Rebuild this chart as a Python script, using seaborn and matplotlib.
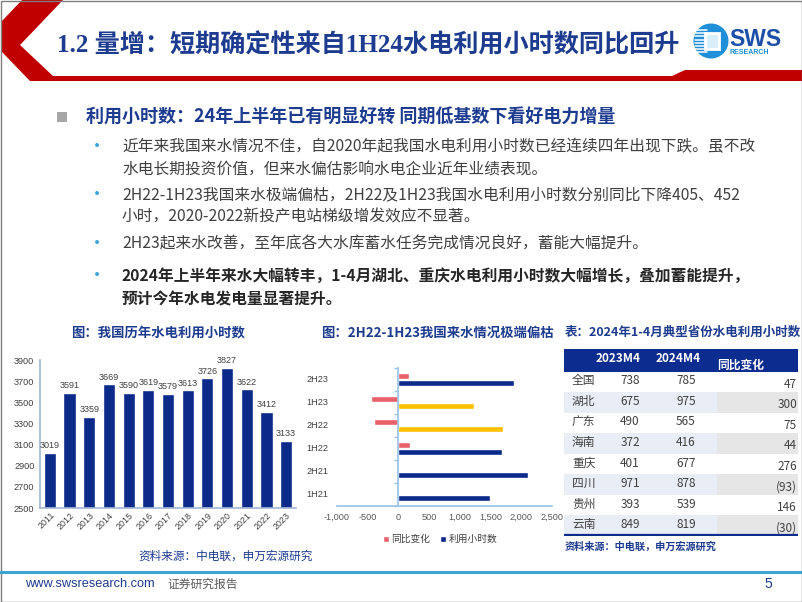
import numpy as np
import pandas as pd
import seaborn as sns
import matplotlib.pyplot as plt
from matplotlib.patches import Polygon, Rectangle, Circle
from matplotlib.ticker import FuncFormatter

# data
years = [str(y) for y in range(2011, 2024)]
hours = [3019, 3591, 3359, 3669, 3590, 3619, 3579, 3613, 3726, 3827, 3622, 3412, 3133]

halves = ['2H23', '1H23', '2H22', '1H22', '2H21', '1H21']
yoy_change = [165, -452, -405, 190, np.nan, np.nan]
half_hours = [1880, 1235, 1710, 1685, 2110, 1490]
dry_halves = ['1H23', '2H22']

provinces = ['全国', '湖北', '广东', '海南', '重庆', '四川', '贵州', '云南']
m4_2023 = [738, 675, 490, 372, 401, 971, 393, 849]
m4_2024 = [785, 975, 565, 416, 677, 878, 539, 819]
m4_change = [47, 300, 75, 44, 276, -93, 146, -30]
table_cols = ['2023M4', '2024M4', '同比变化']

bullets = [
    ['近年来我国来水情况不佳，自2020年起我国水电利用小时数已经连续四年出现下跌。虽不改',
     '水电长期投资价值，但来水偏估影响水电企业近年业绩表现。'],
    ['2H22-1H23我国来水极端偏枯，2H22及1H23我国水电利用小时数分别同比下降405、452',
     '小时，2020-2022新投产电站梯级增发效应不显著。'],
    ['2H23起来水改善，至年底各大水库蓄水任务完成情况良好，蓄能大幅提升。'],
    ['2024年上半年来水大幅转丰，1-4月湖北、重庆水电利用小时数大幅增长，叠加蓄能提升，',
     '预计今年水电发电量显著提升。'],
]
bullet_y = [[147, 170], [195, 217], [244], [276, 299]]

navy = '#0B2A8A'
title_blue = '#1D3B8F'
red = '#C00000'
salmon = '#E8606A'
gold = '#FFC000'
gray_txt = '#404040'

sns.set_theme(style='white')
plt.rcParams['font.family'] = ['Noto Sans CJK SC', 'DejaVu Sans']
plt.rcParams['axes.unicode_minus'] = False
num_font = ['Liberation Sans', 'Noto Sans CJK SC']

W, H = 802, 602
fig = plt.figure(figsize=(W / 100, H / 100), dpi=100)


def box(x0, y0, x1, y1):
    return [x0 / W, 1 - y1 / H, (x1 - x0) / W, (y1 - y0) / H]


bg = fig.add_axes([0, 0, 1, 1])
bg.set_xlim(0, W)
bg.set_ylim(H, 0)
bg.axis('off')

# header chevron + band
bg.add_patch(Polygon([(22, 0), (63, 0), (20, 45), (53, 76), (672, 76), (685, 70),
                      (802, 70), (802, 81), (30, 81), (2, 52), (2, 21)],
                     closed=True, color=red, lw=0))
bg.text(57, 45, '1.2 量增：短期确定性来自1H24水电利用小时数同比回升', fontsize=18.1,
        fontweight='bold', color=title_blue, va='center',
        family=['Liberation Serif', 'Noto Sans CJK SC'])

# logo
bg.add_patch(Circle((711, 41), 17.5, color='#1E8FD8', lw=0))
for yy in np.arange(30, 55, 3.2):
    bg.plot([695, 707], [yy, yy], color='white', lw=1.1)
bg.add_patch(Rectangle((705, 33), 14, 16, fc='#D8EEFB', ec='white', lw=2))
bg.text(729, 39, 'SWS', fontsize=16.5, fontweight='bold', color='#1B4FA8',
        va='center', family=num_font)
bg.text(730, 53, 'RESEARCH', fontsize=5, fontweight='bold', color='#1E8FD8',
        va='center', family=num_font)

# bullet text
bg.add_patch(Rectangle((57, 112), 10, 10, color='#A6A6A6', lw=0))
bg.text(86, 117, '利用小时数：24年上半年已有明显好转 同期低基数下看好电力增量',
        fontsize=13, fontweight='bold', color=title_blue, va='center')
for i, (lines, ys) in enumerate(zip(bullets, bullet_y)):
    bold = i == len(bullets) - 1
    bg.text(97, ys[0], '•', fontsize=13, color='#3AA4DB', va='center', ha='center')
    for line, yy in zip(lines, ys):
        bg.text(122, yy, line, fontsize=11.3, va='center',
                color='#262626' if bold else gray_txt,
                fontweight='bold' if bold else 'normal')

# chart titles / sources
bg.text(158, 333, '图：我国历年水电利用小时数', fontsize=9.6, fontweight='bold',
        color=title_blue, va='center', ha='center')
bg.text(437, 333, '图：2H22-1H23我国来水情况极端偏枯', fontsize=9.6, fontweight='bold',
        color=title_blue, va='center', ha='center')
bg.text(565, 332, '表：2024年1-4月典型省份水电利用小时数', fontsize=9, fontweight='bold',
        color=title_blue, va='center')
bg.text(138, 556, '资料来源：中电联，申万宏源研究', fontsize=8.4, color=title_blue, va='center')
bg.text(565, 547, '资料来源：中电联，申万宏源研究', fontsize=7.3, fontweight='bold',
        color=title_blue, va='center')

# footer
bg.plot([0, W], [572, 572], color='#3DA5CF', lw=2.2)
bg.text(25, 584, 'www.swsresearch.com', fontsize=9.2, color=title_blue, va='center',
        family=num_font)
bg.text(167, 584, '证券研究报告', fontsize=8.5, color='#595959', va='center')
bg.text(768, 584, '5', fontsize=10, color=title_blue, va='center', ha='center',
        family=num_font)
bg.add_patch(Rectangle((0.5, 0.5), W - 1, H - 1, fill=False, ec='#7F7F7F', lw=1))

# ---- left chart: annual utilisation hours
ax1 = fig.add_axes(box(40, 360, 296, 508))
df1 = pd.DataFrame({'year': years, 'hours': hours})
sns.barplot(data=df1, x='year', y='hours', color=navy, saturation=1, width=0.62, ax=ax1)
ax1.set_ylim(2500, 3900)
ax1.set_yticks(range(2500, 4000, 200))
for c in ax1.containers:
    ax1.bar_label(c, fontsize=6.5, color=gray_txt, padding=2, family=num_font)
ax1.set_xlabel('')
ax1.set_ylabel('')
sns.despine(ax=ax1)
for s in ['left', 'bottom']:
    ax1.spines[s].set_color('#A5B8D6')
ax1.tick_params(axis='y', labelsize=6.6, labelcolor=gray_txt, length=2, color='#A5B8D6', pad=2)
ax1.tick_params(axis='x', labelsize=6.4, labelcolor=gray_txt, length=0, pad=2)
for lab in ax1.get_xticklabels() + ax1.get_yticklabels():
    lab.set_family(num_font)
plt.setp(ax1.get_xticklabels(), rotation=45, ha='right', rotation_mode='anchor')

# ---- middle chart: half-year hours and yoy change
ax2 = fig.add_axes(box(337, 368, 552, 506))
df2 = pd.DataFrame({'half': halves * 2,
                    'series': ['同比变化'] * len(halves) + ['利用小时数'] * len(halves),
                    'value': yoy_change + half_hours})
sns.barplot(data=df2, y='half', x='value', hue='series', order=halves,
            hue_order=['同比变化', '利用小时数'], palette=[salmon, navy],
            orient='h', width=0.6, saturation=1, ax=ax2)
for p in ax2.containers[1]:
    idx = int(round(p.get_y() + p.get_height() / 2))
    if halves[idx] in dry_halves:
        p.set_facecolor(gold)
ax2.set_xlim(-1000, 2500)
ax2.set_ylim(len(halves) - 0.5, -0.5)
ax2.set_xticks(range(-1000, 2501, 500))
ax2.xaxis.set_major_formatter(FuncFormatter(lambda v, _: f'{v:,.0f}'))
ax2.set_xlabel('')
ax2.set_ylabel('')
sns.despine(ax=ax2)
ax2.spines['left'].set_position(('data', 0))
for s in ['left', 'bottom']:
    ax2.spines[s].set_color('#9DC3E6')
ax2.set_yticks(range(len(halves)))
ax2.set_yticklabels([])
ax2.set_yticks(np.arange(-0.5, len(halves), 1), minor=True)
ax2.tick_params(axis='y', which='major', length=0)
ax2.tick_params(axis='y', which='minor', length=3, color='#9DC3E6', left=True)
ax2.tick_params(axis='x', labelsize=6.6, labelcolor='#595959', length=3, color='#9DC3E6', pad=2)
for lab in ax2.get_xticklabels():
    lab.set_family(num_font)
for i, h in enumerate(halves):
    ax2.text(-0.04, i, h, transform=ax2.get_yaxis_transform(), ha='right', va='center',
             fontsize=6.6, color=gray_txt, family=num_font)
sns.move_legend(ax2, 'upper center', bbox_to_anchor=(0.48, -0.14), ncol=2, title=None,
                frameon=False, fontsize=7, handlelength=0.6, handleheight=0.6,
                handletextpad=0.3, columnspacing=1.0)
for t in ax2.get_legend().get_texts():
    t.set_color(gray_txt)

# ---- right table
ax3 = fig.add_axes(box(564, 349, 798, 536))
ax3.set_xlim(0, 234)
ax3.set_ylim(len(provinces), -1.1)
ax3.axis('off')
ax3.axhspan(-1.1, 0, color='#0D2C8F', lw=0)
for i in range(1, len(provinces), 2):
    ax3.barh(i + 0.5, 153, height=1, left=0, color='#E9EDF5', lw=0)
    ax3.barh(i + 0.5, 81, height=1, left=153, color='#E6E6E6', lw=0)
ax3.axhline(len(provinces) - 0.03, color='#0D2C8F', lw=1.6)
ax3.text(54, -0.62, table_cols[0], ha='center', va='center', color='white',
         fontsize=8.5, fontweight='bold')
ax3.text(114, -0.62, table_cols[1], ha='center', va='center', color='white',
         fontsize=8.5, fontweight='bold')
ax3.text(153, -0.3, table_cols[2], ha='left', va='center', color='white',
         fontsize=8.5, fontweight='bold')
for i, (prov, a, b, d) in enumerate(zip(provinces, m4_2023, m4_2024, m4_change)):
    ax3.text(8, i + 0.45, prov, ha='left', va='center', color=gray_txt, fontsize=8.5)
    ax3.text(66, i + 0.45, f'{a}', ha='center', va='center', color=gray_txt, fontsize=8.5)
    ax3.text(122, i + 0.45, f'{b}', ha='center', va='center', color=gray_txt, fontsize=8.5)
    ax3.text(233, i + 0.62, f'{d}' if d >= 0 else f'({-d})', ha='right', va='center',
             color=gray_txt, fontsize=8.5)

fig.savefig('out.png', dpi=100)
